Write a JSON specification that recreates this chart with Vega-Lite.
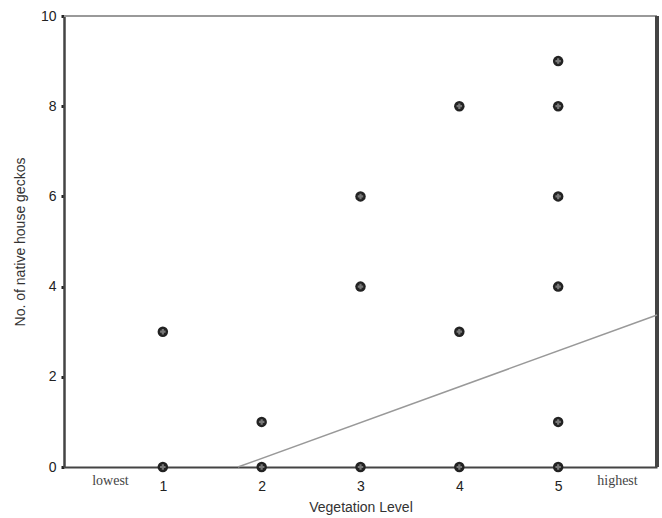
{
  "$schema": "https://vega.github.io/schema/vega-lite/v6.json",
  "width": 593,
  "height": 451,
  "autosize": {"type": "none"},
  "padding": {"left": 64, "top": 16, "right": 5, "bottom": 51},
  "background": "white",
  "config": {
    "view": {"stroke": null},
    "axis": {"labelFont": "Liberation Sans", "titleFont": "Liberation Sans", "labelColor": "#222", "titleColor": "#333", "grid": false}
  },
  "datasets": {
    "points": [
      {"level": 1, "geckos": 3}, {"level": 1, "geckos": 0},
      {"level": 2, "geckos": 1}, {"level": 2, "geckos": 0},
      {"level": 3, "geckos": 6}, {"level": 3, "geckos": 4}, {"level": 3, "geckos": 0},
      {"level": 4, "geckos": 8}, {"level": 4, "geckos": 3}, {"level": 4, "geckos": 0},
      {"level": 5, "geckos": 9}, {"level": 5, "geckos": 8}, {"level": 5, "geckos": 6},
      {"level": 5, "geckos": 4}, {"level": 5, "geckos": 1}, {"level": 5, "geckos": 0}
    ],
    "fit": [{"level": 1.76, "geckos": 0}, {"level": 6, "geckos": 3.37}],
    "ends": [{"level": 0.47, "label": "lowest"}, {"level": 5.6, "label": "highest"}],
    "one": [{}]
  },
  "layer": [
    {
      "data": {"name": "one"},
      "mark": {"type": "rule", "color": "#999", "strokeWidth": 2},
      "encoding": {"y": {"datum": 10, "type": "quantitative"}}
    },
    {
      "data": {"name": "one"},
      "mark": {"type": "rule", "color": "#444", "strokeWidth": 4},
      "encoding": {"x": {"datum": 6, "type": "quantitative"}}
    },
    {
      "data": {"name": "fit"},
      "mark": {"type": "line", "color": "#999", "strokeWidth": 1.5},
      "encoding": {
        "x": {"field": "level", "type": "quantitative"},
        "y": {"field": "geckos", "type": "quantitative"}
      }
    },
    {
      "data": {"name": "points"},
      "mark": {"type": "point", "shape": "circle", "filled": true, "color": "#222", "size": 110, "opacity": 1},
      "encoding": {
        "x": {"field": "level", "type": "quantitative", "scale": {"domain": [0, 6], "nice": false, "zero": false},
          "axis": {"values": [1, 2, 3, 4, 5], "format": "d", "title": "Vegetation Level", "titleFontSize": 14, "titleFontWeight": "normal", "titlePadding": 7,
            "labelFontSize": 14, "labelPadding": 12, "domainColor": "#444", "domainWidth": 2, "tickSize": 0}},
        "y": {"field": "geckos", "type": "quantitative", "scale": {"domain": [0, 10], "nice": false},
          "axis": {"values": [0, 2, 4, 6, 8, 10], "format": "d", "title": "No. of native house geckos", "titleFontSize": 14, "titleFontWeight": "normal", "titlePadding": 13,
            "labelFontSize": 14, "labelPadding": 5, "domainColor": "#444", "domainWidth": 2.5, "tickSize": 3, "tickWidth": 3, "tickColor": "#222"}}
      }
    },
    {
      "data": {"name": "points"},
      "mark": {"type": "point", "shape": "cross", "filled": true, "color": "#777", "size": 30, "opacity": 1},
      "encoding": {
        "x": {"field": "level", "type": "quantitative"},
        "y": {"field": "geckos", "type": "quantitative"}
      }
    },
    {
      "data": {"name": "ends"},
      "mark": {"type": "text", "font": "Liberation Serif", "fontSize": 14, "color": "#444", "dy": 14},
      "encoding": {
        "x": {"field": "level", "type": "quantitative"},
        "y": {"datum": 0, "type": "quantitative"},
        "text": {"field": "label"}
      }
    }
  ]
}
